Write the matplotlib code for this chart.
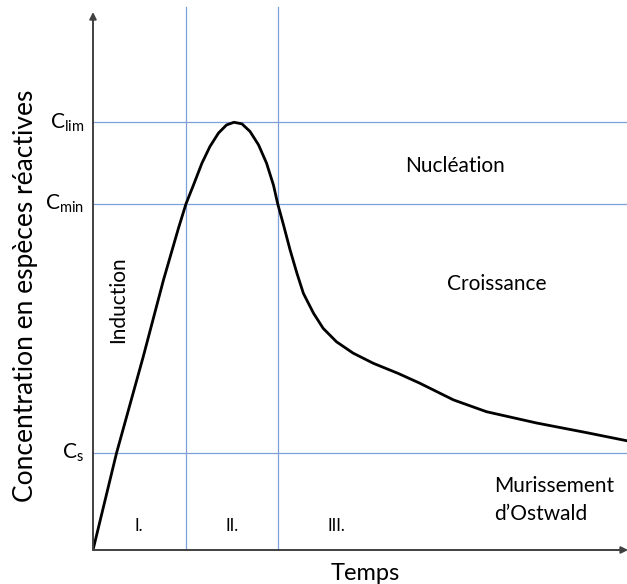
import matplotlib.pyplot as plt

plt.rcParams['font.family'] = ['Lato', 'DejaVu Sans']
plt.rcParams['mathtext.fontset'] = 'custom'
plt.rcParams['mathtext.rm'] = 'Lato'

# Courbe de LaMer : concentration en fonction du temps (unités arbitraires)
temps = [0.0, 0.44, 0.94, 1.32, 1.60, 1.74, 1.88, 2.04, 2.19, 2.35, 2.50,
         2.64, 2.79, 2.94, 3.10, 3.25, 3.38, 3.46, 3.56, 3.69, 3.82, 3.94,
         4.13, 4.31, 4.56, 4.87, 5.25, 5.72, 6.12, 6.75, 7.37, 8.31, 9.25,
         10.0]
concentration = [0.0, 1.80, 3.59, 5.02, 5.98, 6.43, 6.78, 7.19, 7.50, 7.75,
                 7.90, 7.95, 7.92, 7.78, 7.53, 7.19, 6.78, 6.43, 6.07, 5.58,
                 5.14, 4.77, 4.40, 4.12, 3.87, 3.66, 3.47, 3.28, 3.10, 2.79,
                 2.57, 2.36, 2.18, 2.03]

# niveaux de concentration et limites des étapes
niveaux = [7.95, 6.43, 1.80]
noms_niveaux = [r'C$_{\mathrm{lim}}$', r'C$_{\mathrm{min}}$', r'C$_{\mathrm{s}}$']
limites_etapes = [1.74, 3.46]
etapes = ['I.', 'II.', 'III.']
pos_etapes = [0.86, 2.60, 4.55]

bleu = '#7f9fd8'

fig = plt.figure(figsize=(6.27, 5.84), dpi=100)
ax = fig.add_axes([93 / 627, 34 / 584, 534 / 627, 545 / 584])
ax.set_xlim(0, 10)
ax.set_ylim(0, 10.13)
ax.axis('off')

for y in niveaux:
    ax.plot([0, 10], [y, y], color=bleu, lw=0.9)
for x in limites_etapes:
    ax.plot([x, x], [0, 10.1], color=bleu, lw=0.9)

# axes avec flèches
ax.annotate('', xy=(0, 10.0), xytext=(0, 0),
            arrowprops=dict(arrowstyle='-|>', color='#404040', lw=1.4,
                            mutation_scale=10, shrinkA=0, shrinkB=0))
ax.annotate('', xy=(10.02, 0), xytext=(0, 0),
            arrowprops=dict(arrowstyle='-|>', color='#404040', lw=1.4,
                            mutation_scale=10, shrinkA=0, shrinkB=0),
            annotation_clip=False)

ax.plot(temps, concentration, color='black', lw=2.0,
        solid_capstyle='round', solid_joinstyle='round')

for y, nom in zip(niveaux, noms_niveaux):
    ax.text(-0.17, y, nom, ha='right', va='center', fontsize=15, clip_on=False)

for x, e in zip(pos_etapes, etapes):
    ax.text(x, 0.44, e, ha='center', va='center', fontsize=12)

ax.text(6.78, 7.14, 'Nucléation', ha='center', va='center', fontsize=15)
ax.text(7.57, 4.94, 'Croissance', ha='center', va='center', fontsize=15)
ax.text(0.47, 4.65, 'Induction', ha='center', va='center', fontsize=15,
        rotation=90)
ax.text(7.52, 0.93, 'Murissement\nd\u2019Ostwald', ha='left', va='center',
        fontsize=15, linespacing=1.5)

fig.text(365 / 627, 1 - 573 / 584, 'Temps', ha='center', va='center',
         fontsize=17)
fig.text(26 / 627, 1 - 296 / 584, 'Concentration en espèces réactives',
         ha='center', va='center', rotation=90, fontsize=19)

fig.savefig('out.png', dpi=100)
